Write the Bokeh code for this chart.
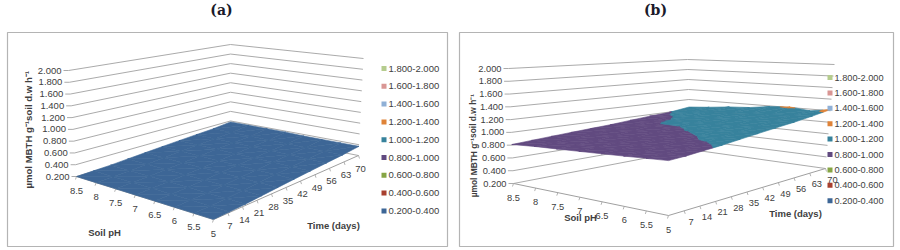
from bokeh.plotting import figure
from bokeh.models import Range1d
from bokeh.core.properties import value
from bokeh.embed import file_html
from bokeh.resources import INLINE

ph_labels = ["8.5", "8", "7.5", "7", "6.5", "6", "5.5", "5"]
time_labels = ["7", "14", "21", "28", "35", "42", "49", "56", "63", "70"]
z_ticks = [0.2, 0.4, 0.6, 0.8, 1.0, 1.2, 1.4, 1.6, 1.8, 2.0]
bands = ["0.200-0.400", "0.400-0.600", "0.600-0.800", "0.800-1.000", "1.000-1.200",
         "1.200-1.400", "1.400-1.600", "1.600-1.800", "1.800-2.000"]
band_colors = ["#3d6696", "#a8402f", "#86a544", "#614a80", "#37829c",
               "#df8338", "#8fb0d6", "#d99694", "#b5cc8e"]

# activity (rows: soil pH, columns: time)
values_a = [
    [.20, .21, .22, .24, .26, .28, .30, .32, .34, .38],
    [.20, .21, .22, .24, .26, .28, .30, .32, .34, .38],
    [.20, .21, .22, .24, .26, .28, .30, .32, .34, .38],
    [.20, .21, .22, .24, .26, .28, .30, .32, .34, .38],
    [.20, .21, .22, .24, .26, .28, .30, .32, .34, .37],
    [.20, .21, .22, .24, .26, .28, .30, .32, .34, .37],
    [.20, .21, .22, .24, .26, .28, .30, .32, .34, .37],
    [.20, .21, .22, .24, .26, .28, .30, .32, .34, .37],
]
values_b = [
    [.81, .83, .85, .87, .89, .91, .94, .97, .995, 1.05],
    [.84, .85, .87, .89, .92, .94, .96, .995, 1.03, 1.08],
    [.86, .87, .89, .92, .95, .985, 1.02, 1.04, 1.08, 1.12],
    [.88, .89, .91, .94, .97, .99, 1.02, 1.05, 1.09, 1.14],
    [.90, .91, .93, .96, .98, 1.01, 1.04, 1.08, 1.12, 1.19],
    [.92, .93, .95, .98, 1.00, 1.03, 1.06, 1.10, 1.14, 1.21],
    [.94, .95, .97, .99, 1.02, 1.05, 1.08, 1.11, 1.15, 1.17],
    [.96, .97, .99, 1.01, 1.04, 1.07, 1.10, 1.13, 1.17, 1.22],
]

TEXT = "#404040"
GRID = "#a0a0a0"
YTITLE = "µmol MBTH g⁻¹soil  d.w h⁻¹"

p = figure(width=900, height=250, x_range=Range1d(0, 900), y_range=Range1d(250, 0),
           toolbar_location=None, output_backend="svg", min_border=0, margin=0)
p.axis.visible = False
p.grid.visible = False
p.outline_line_color = None


def project(view, u, v, z):
    """Trilinear mapping of the 3D box to the picture, u: pH, v: time, z: value."""
    t = (z - 0.2) / 1.8
    pts = []
    for i in (0, 1):
        L, F, R, B = (view["floor"] if i == 0 else view["top"])
        pts.append(tuple(
            (1 - u) * (1 - v) * L[k] + u * (1 - v) * F[k] + u * v * R[k] + (1 - u) * v * B[k]
            for k in (0, 1)))
    return (pts[0][0] * (1 - t) + pts[1][0] * t, pts[0][1] * (1 - t) + pts[1][1] * t)


def clip(poly, lim, keep_above):
    out = []
    for i, a in enumerate(poly):
        b = poly[(i + 1) % len(poly)]
        ina = a[2] >= lim if keep_above else a[2] <= lim
        inb = b[2] >= lim if keep_above else b[2] <= lim
        if ina:
            out.append(a)
        if ina != inb:
            s = (lim - a[2]) / (b[2] - a[2])
            out.append(tuple(a[k] + s * (b[k] - a[k]) for k in range(3)))
    return out


def surface(view, grid):
    nu, nv = len(grid), len(grid[0])
    for iu in range(nu - 1):
        for iv in range(nv - 1):
            c = [(iu / (nu - 1), iv / (nv - 1), grid[iu][iv]),
                 ((iu + 1) / (nu - 1), iv / (nv - 1), grid[iu + 1][iv]),
                 ((iu + 1) / (nu - 1), (iv + 1) / (nv - 1), grid[iu + 1][iv + 1]),
                 (iu / (nu - 1), (iv + 1) / (nv - 1), grid[iu][iv + 1])]
            for tri in ([c[0], c[1], c[2]], [c[0], c[2], c[3]]):
                for k, col in enumerate(band_colors):
                    poly = clip(clip(tri, z_ticks[k], True), z_ticks[k + 1], False)
                    if len(poly) >= 3:
                        xy = [project(view, *q) for q in poly]
                        p.patch([q[0] for q in xy], [q[1] for q in xy], fill_color=col,
                                line_color=col, line_width=0.6)


def label(x, y, s, size, align="center", bold=False, angle=0, font="Liberation Sans", color=TEXT):
    p.text([x], [y], text=[s], text_font=value(font), text_font_size=f"{size}px",
           text_align=align, text_baseline="middle", text_color=color, angle=angle,
           text_font_style="bold" if bold else "normal")


def panel(view, grid):
    x0, y0, x1, y1 = view["box"]
    p.quad(left=[x0], right=[x1], top=[y0], bottom=[y1], fill_color="white",
           line_color="#b4b4b4", line_width=1.2)
    for z in z_ticks:
        a, b, c = project(view, 0, 0, z), project(view, 0, 1, z), project(view, 1, 1, z)
        p.line([a[0], b[0], c[0]], [a[1], b[1], c[1]], line_color=GRID, line_width=0.9)
        p.line([a[0] - 5, a[0]], [a[1], a[1]], line_color=GRID, line_width=0.9)
        label(a[0] - 7, a[1], f"{z:.3f}", view["fs"], "right")
    a, b, c = project(view, 0, 0, 0.2), project(view, 1, 0, 0.2), project(view, 1, 1, 0.2)
    p.line([a[0], b[0], c[0]], [a[1], b[1], c[1]], line_color=GRID, line_width=1)
    surface(view, grid)
    for i, s in enumerate(ph_labels):
        q = project(view, i / (len(ph_labels) - 1), 0, 0.2)
        p.line([q[0], q[0] - 1], [q[1], q[1] + 3], line_color=GRID, line_width=0.8)
        label(q[0], q[1] + view["ph_dy"], s, view["fs"])
    for i, s in enumerate(time_labels):
        q = project(view, 1, (i + 1) / len(time_labels), 0.2)
        p.line([q[0], q[0] + 1], [q[1], q[1] + 3], line_color=GRID, line_width=0.8)
        label(q[0] + view["t_dx"], q[1] + view["t_dy"], s, view["fs"])
    for k, name in enumerate(reversed(bands)):
        y = view["leg_y"] + k * view["leg_dy"]
        col = band_colors[len(bands) - 1 - k]
        p.quad(left=[view["leg_x"]], right=[view["leg_x"] + 5], top=[y - 2.5], bottom=[y + 2.5],
               fill_color=col, line_color=None)
        label(view["leg_x"] + 7, y, name, view["leg_fs"], "left")
    lx, ly, ls = view["ytitle"]
    label(lx, ly, YTITLE, ls, bold=True, angle=1.5708)
    label(*view["ph_title"], "Soil pH", 9.5, bold=True)
    label(*view["t_title"], "Time (days)", 9.5, bold=True)
    label(*view["title"], view["name"], 14, bold=True, font="DejaVu Serif", color="#1a1a2a")


view_a = dict(box=(7, 32, 447, 246), name="(a)", title=(221, 9),
              floor=[(76, 176), (213, 219), (358, 155), (230, 130)],
              top=[(68, 70), (213, 100), (363, 58), (230, 44)],
              fs=9.5, leg_fs=9.5, ph_dy=14, t_dy=13, t_dx=2,
              leg_x=381, leg_y=68, leg_dy=17.8,
              ytitle=(28, 128, 9.6), ph_title=(104, 232), t_title=(333, 225))
view_b = dict(box=(459, 32, 893, 246), name="(b)", title=(655, 9),
              floor=[(513, 183), (668, 215), (825, 168), (690, 149)],
              top=[(508, 68), (668, 85), (834, 64), (687, 59)],
              fs=9.3, leg_fs=9.2, ph_dy=14, t_dy=11, t_dx=7,
              leg_x=827, leg_y=77, leg_dy=15.4,
              ytitle=(473, 144, 8.4), ph_title=(580, 217), t_title=(795, 213))

panel(view_a, values_a)
panel(view_b, values_b)

open("out.html", "w").write(file_html(p, INLINE))
